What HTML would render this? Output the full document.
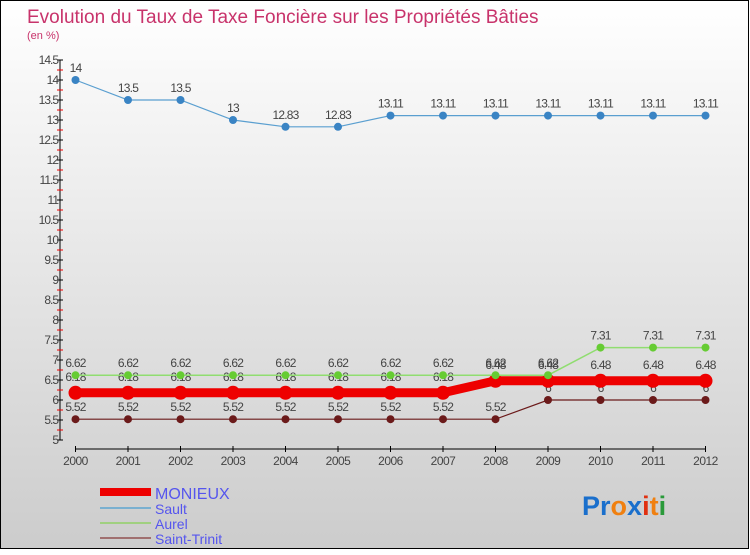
<!DOCTYPE html>
<html><head><meta charset="utf-8"><style>
body{margin:0;width:750px;height:550px;overflow:hidden;font-family:"Liberation Sans",sans-serif}
</style></head><body>
<svg id="c" width="750" height="550" xmlns="http://www.w3.org/2000/svg">
<defs><linearGradient id="bg" x1="0" y1="0" x2="0" y2="1"><stop offset="0" stop-color="#ffffff"/><stop offset="1" stop-color="#cccccc"/></linearGradient></defs>
<rect x="0.5" y="0.5" width="748" height="548" fill="url(#bg)" stroke="#000"/>
<text x="27" y="23" font-size="19" fill="#c8336b">Evolution du Taux de Taxe Foncière sur les Propriétés Bâties</text>
<text x="27" y="39" font-size="11" fill="#c8336b">(en %)</text>
<g id="axes"></g><g id="series"></g>
<g>
<rect x="100" y="488" width="51" height="8" fill="#ee0000"/>
<text x="155" y="499" font-size="16" fill="#5555ee">MONIEUX</text>
<line x1="100" y1="508" x2="151" y2="508" stroke="#7ab0d0" stroke-width="2"/>
<text x="155" y="514" font-size="14" fill="#5555ee">Sault</text>
<line x1="100" y1="523" x2="151" y2="523" stroke="#a0d080" stroke-width="2"/>
<text x="155" y="529" font-size="14" fill="#5555ee">Aurel</text>
<line x1="100" y1="538" x2="151" y2="538" stroke="#a07070" stroke-width="2"/>
<text x="155" y="544" font-size="14" fill="#5555ee">Saint-Trinit</text>
</g>
<text x="582" y="515" font-size="27" font-weight="bold"><tspan fill="#1a6fcc">Pr</tspan><tspan fill="#f08010">o</tspan><tspan fill="#1a6fcc">x</tspan><tspan fill="#e03010">i</tspan><tspan fill="#f08010">t</tspan><tspan fill="#2a9a3a">i</tspan></text>
</svg>
<script>
const years=[2000,2001,2002,2003,2004,2005,2006,2007,2008,2009,2010,2011,2012];
const monieux=[6.18,6.18,6.18,6.18,6.18,6.18,6.18,6.18,6.48,6.48,6.48,6.48,6.48];
const sault=[14,13.5,13.5,13,12.83,12.83,13.11,13.11,13.11,13.11,13.11,13.11,13.11];
const aurel=[6.62,6.62,6.62,6.62,6.62,6.62,6.62,6.62,6.62,6.62,7.31,7.31,7.31];
const saintTrinit=[5.52,5.52,5.52,5.52,5.52,5.52,5.52,5.52,5.52,6,6,6,6];
const yTicks=[5,5.5,6,6.5,7,7.5,8,8.5,9,9.5,10,10.5,11,11.5,12,12.5,13,13.5,14,14.5];
const NS="http://www.w3.org/2000/svg";
const X=i=>75.5+i*52.5, Y=v=>440-(v-5)*40;
function mk(p,t,a){const e=document.createElementNS(NS,t);for(const k in a)e.setAttribute(k,a[k]);p.appendChild(e);return e;}
const ax=document.getElementById('axes'), sg=document.getElementById('series');
let l=mk(ax,'line',{x1:60,y1:Y(14.5),x2:60,y2:Y(5),stroke:'#000'});


for(let v=5;v<=14.5;v+=0.25){mk(ax,'line',{x1:57,x2:63,y1:Y(v),y2:Y(v),stroke:(v*2)%1===0?'#000':'#e00'});}
yTicks.forEach(v=>{const t=mk(ax,'text',{x:58,y:Y(v)+4,'text-anchor':'end','font-size':12,fill:'#444','letter-spacing':'-1'});t.textContent=String(v);

});
l=mk(ax,'line',{x1:X(0),y1:449,x2:X(12),y2:449,stroke:'#000'});


years.forEach((y,i)=>{mk(ax,'line',{x1:X(i),x2:X(i),y1:446,y2:452,stroke:'#000'});
const t=mk(ax,'text',{x:X(i),y:465,'text-anchor':'middle','font-size':12,fill:'#444','letter-spacing':'-0.5'});t.textContent=y;

});
function series(name,data,color,w,r,lab,ldy){
const g=mk(sg,'g',{});


mk(g,'polyline',{points:data.map((v,i)=>X(i)+','+Y(v)).join(' '),fill:'none',stroke:color,'stroke-width':w});
data.forEach((v,i)=>{const c=mk(g,'circle',{cx:X(i),cy:Y(v),r:r,fill:color});


const t=mk(g,'text',{x:X(i),y:Y(v)+ldy,'text-anchor':'middle','font-size':12,fill:'#444','letter-spacing':'-0.8'});t.textContent=String(v);

});}
series('saint-trinit',saintTrinit,'#6b1a1a',1.2,4,0,-8);
series('monieux',monieux,'#ee0000',9,7,0,-12);
series('aurel',aurel,'#90dd70',1.5,4,0,-8);
series('sault',sault,'#5a9fd0',1.2,4,0,-8);
sg.querySelectorAll('g')[2].querySelectorAll('circle').forEach(c=>c.setAttribute('fill','#66cc33'));
sg.querySelectorAll('g')[3].querySelectorAll('circle').forEach(c=>c.setAttribute('fill','#3a84c4'));
</script>
</body></html>
